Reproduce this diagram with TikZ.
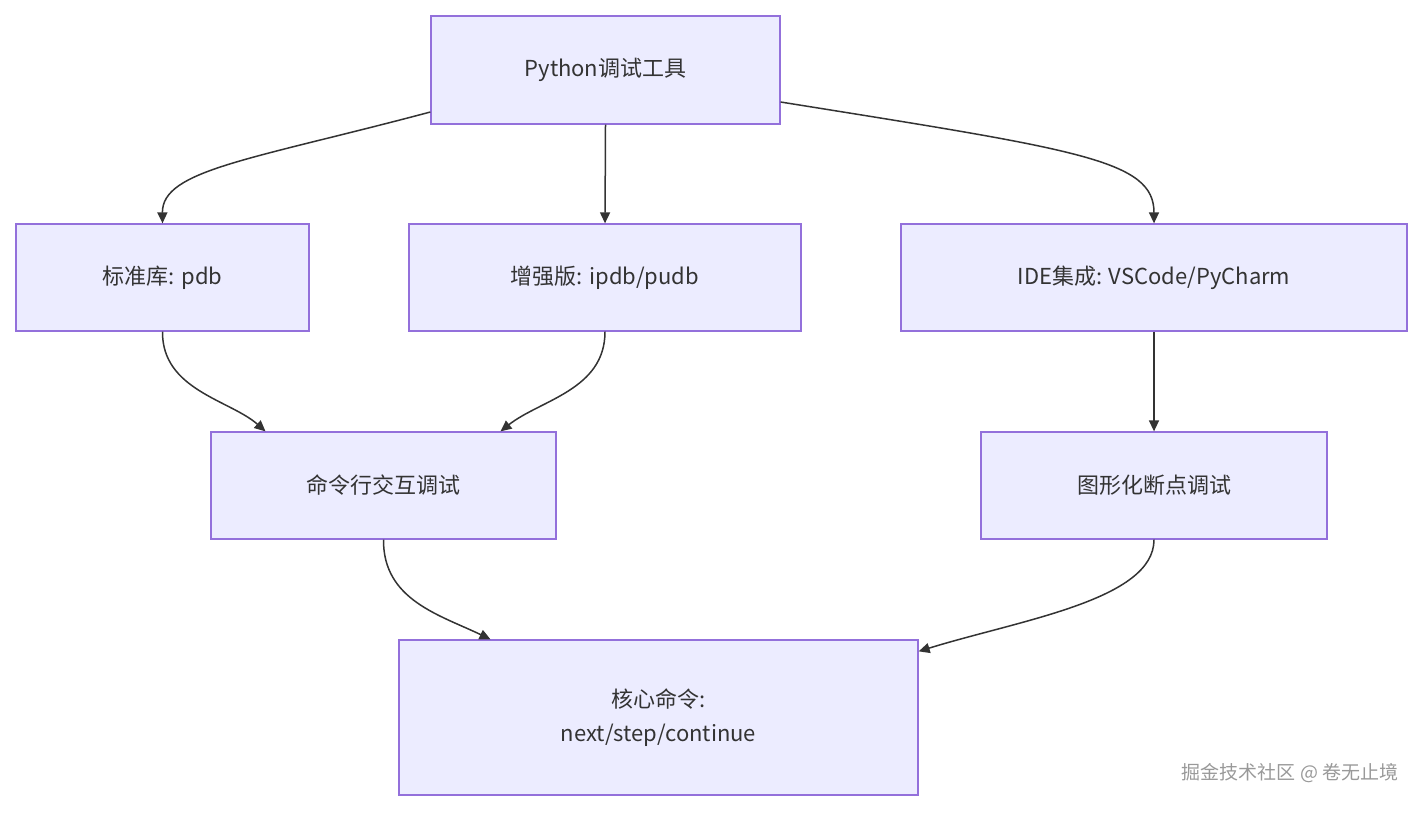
\documentclass[tikz,border=0pt]{standalone}
\usepackage{fontspec}
\setmainfont{Noto Sans CJK SC}
\usetikzlibrary{arrows.meta,calc}
\definecolor{nfill}{HTML}{ECECFF}
\definecolor{nstroke}{HTML}{9370DB}
\definecolor{txt}{HTML}{333333}
\begin{document}
\begin{tikzpicture}[x=1pt,y=-1pt,
  box/.style={draw=nstroke,fill=nfill,line width=1.3pt,text=txt,font=\fontsize{22}{34}\selectfont,align=center,inner sep=0pt},
  edge/.style={draw=txt,line width=1.5pt,-{Triangle[length=11pt,width=10pt]}}]
\useasboundingbox (0,0) rectangle (1423,812);
\node[box,minimum width=349pt,minimum height=108pt] (top) at (605.5,70) {Python调试工具};
\node[box,minimum width=293pt,minimum height=107pt] (pdb) at (162.5,277.5) {标准库: pdb};
\node[box,minimum width=392pt,minimum height=107pt] (ipdb) at (605,277.5) {增强版: ipdb/pudb};
\node[box,minimum width=506pt,minimum height=107pt] (ide) at (1154,277.5) {IDE集成: VSCode/PyCharm};
\node[box,minimum width=345pt,minimum height=107pt] (cmd) at (383.5,485.5) {命令行交互调试};
\node[box,minimum width=346pt,minimum height=107pt] (gui) at (1154,485.5) {图形化断点调试};
\node[box,minimum width=519pt,minimum height=155pt] (core) at (658.5,717.5) {核心命令:\\next/step/continue};
\node[text=gray!80,font=\fontsize{19}{22}\selectfont,anchor=east] (wm) at (1402,773) {掘金技术社区 @ 卷无止境};
\draw[edge] ([yshift=-42pt]top.west) .. controls (250,160) and (162,170) .. (pdb.north);
\draw[edge] (top.south) -- (ipdb.north);
\draw[edge] ([yshift=-32pt]top.east) .. controls (1080,150) and (1154,160) .. (ide.north);
\draw[edge] (pdb.south) .. controls (162,390) and (230,400) .. ([xshift=-118pt]cmd.north);
\draw[edge] (ipdb.south) .. controls (605,390) and (540,400) .. ([xshift=117pt]cmd.north);
\draw[edge] (ide.south) -- (gui.north);
\draw[edge] (cmd.south) .. controls (383,600) and (440,615) .. ([xshift=-168pt]core.north);
\draw[edge] (gui.south) .. controls (1154,600) and (1020,620) .. ([yshift=-12pt]core.north east);
\end{tikzpicture}
\end{document}
